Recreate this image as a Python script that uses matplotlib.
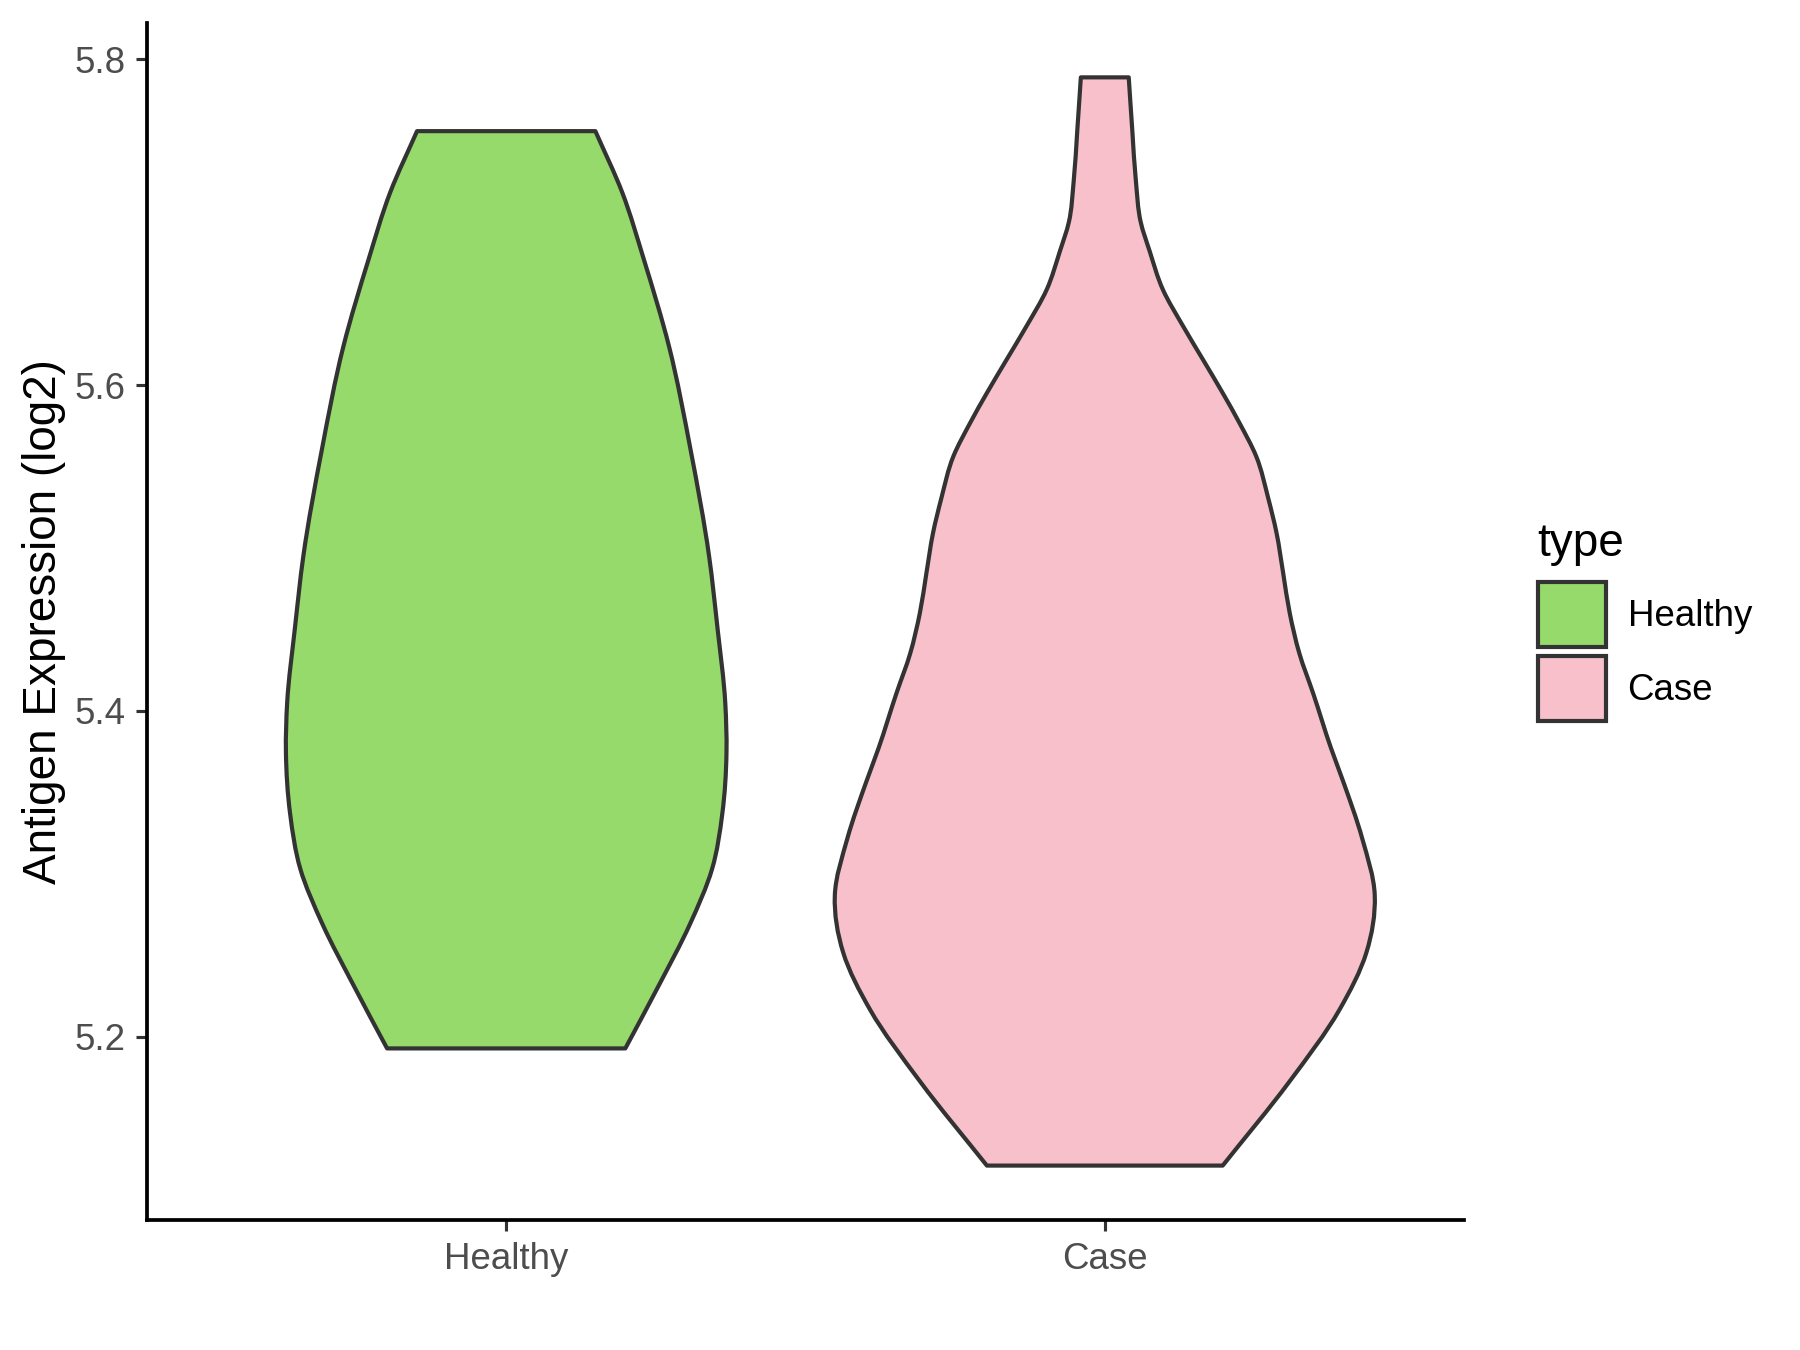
import numpy as np
import matplotlib
matplotlib.use("Agg")
import matplotlib.pyplot as plt
from matplotlib.patches import Patch, PathPatch
from matplotlib.path import Path

# violin outlines: y level -> half width (x units)
groups = ["Healthy", "Case"]
colors = ["#95DA6A", "#F7C0CB"]

healthy_y = [5.7558, 5.7180, 5.6770, 5.6237, 5.5603, 5.4948, 5.4508,
             5.4046, 5.3745, 5.3369, 5.3031, 5.2692, 5.2316, 5.1929]
healthy_hw = [0.149, 0.194, 0.230, 0.272, 0.308, 0.339, 0.353,
              0.366, 0.368, 0.361, 0.344, 0.307, 0.255, 0.199]

case_y = [5.7888, 5.7560, 5.7250, 5.7000, 5.6821, 5.6586, 5.6360, 5.6156, 5.5951,
          5.5767, 5.5562, 5.5306, 5.5091, 5.4846, 5.4600, 5.4354, 5.4109, 5.3771,
          5.3570, 5.3218, 5.2868, 5.2517, 5.2166, 5.1728, 5.1210]
case_hw = [0.040, 0.046, 0.052, 0.060, 0.075, 0.097, 0.131, 0.164, 0.197,
           0.225, 0.253, 0.273, 0.287, 0.298, 0.309, 0.325, 0.348, 0.378,
           0.398, 0.430, 0.451, 0.437, 0.392, 0.309, 0.197]

yticks = [5.2, 5.4, 5.6, 5.8]


def side_curve(pos, ys, hw, sign):
    # cubic hermite through the read points (hw as a function of y),
    # written as bezier segments so matplotlib draws the curve itself
    m = np.gradient(hw, ys)
    verts, codes = [], []
    for i in range(len(ys) - 1):
        h = ys[i + 1] - ys[i]
        w1 = hw[i] + m[i] * h / 3.0
        w2 = hw[i + 1] - m[i + 1] * h / 3.0
        verts += [(pos + sign * w1, ys[i] + h / 3.0),
                  (pos + sign * w2, ys[i + 1] - h / 3.0),
                  (pos + sign * hw[i + 1], ys[i + 1])]
        codes += [Path.CURVE4] * 3
    return verts, codes


def violin_path(pos, ys, hw):
    ys = np.asarray(ys, dtype=float)
    hw = np.asarray(hw, dtype=float)
    verts = [(pos - hw[0], ys[0])]
    codes = [Path.MOVETO]
    v, c = side_curve(pos, ys, hw, -1)                  # left, top -> bottom
    verts += v
    codes += c
    verts.append((pos + hw[-1], ys[-1]))
    codes.append(Path.LINETO)
    v, c = side_curve(pos, ys[::-1], hw[::-1], 1)       # right, bottom -> top
    verts += v
    codes += c
    verts.append((pos - hw[0], ys[0]))
    codes.append(Path.CLOSEPOLY)
    return Path(verts, codes)


plt.rcParams['font.family'] = ['Liberation Sans', 'DejaVu Sans']

fig = plt.figure(figsize=(6, 4.5), dpi=300)
ax = fig.add_axes([0.0817, 0.0963, 0.7316, 0.8867])

profiles = [(healthy_y, healthy_hw), (case_y, case_hw)]
for i, (ys, hw) in enumerate(profiles):
    p = violin_path(i + 1, ys, hw)
    ax.add_patch(PathPatch(p, facecolor=colors[i], edgecolor="#333333",
                           linewidth=1.0, joinstyle="round", zorder=2))

ax.set_xlim(0.4, 2.6)
lo = min(min(healthy_y), min(case_y))
hi = max(max(healthy_y), max(case_y))
pad = (hi - lo) * 0.05
ax.set_ylim(lo - pad, hi + pad)

ax.set_xticks([1, 2])
ax.set_xticklabels(groups)
ax.set_yticks(yticks)
ax.set_yticklabels([f"{v:.1f}" for v in yticks])
ax.tick_params(axis="both", labelsize=8.8, labelcolor="#4D4D4D", color="#333333",
               length=2.75, width=0.75, pad=2.5)

for s in ["top", "right"]:
    ax.spines[s].set_visible(False)
for s in ["left", "bottom"]:
    ax.spines[s].set_linewidth(0.9)
    ax.spines[s].set_color("black")

ax.set_ylabel("Antigen Expression (log2)", fontsize=11, labelpad=2.0)
ax.set_xlabel("")

handles = [Patch(facecolor=c, edgecolor="#333333", linewidth=1.0, label=g)
           for g, c in zip(groups, colors)]
leg = ax.legend(handles=handles, title="type", loc="center left",
                bbox_to_anchor=(1.056, 0.5), frameon=False, fontsize=8.8,
                title_fontsize=11, handlelength=1.85, handleheight=2.35,
                labelspacing=0.25, handletextpad=0.6, borderaxespad=0,
                borderpad=0)
leg._legend_box.align = "left"
leg._legend_box.sep = 4

fig.savefig("out.png", dpi=300)
